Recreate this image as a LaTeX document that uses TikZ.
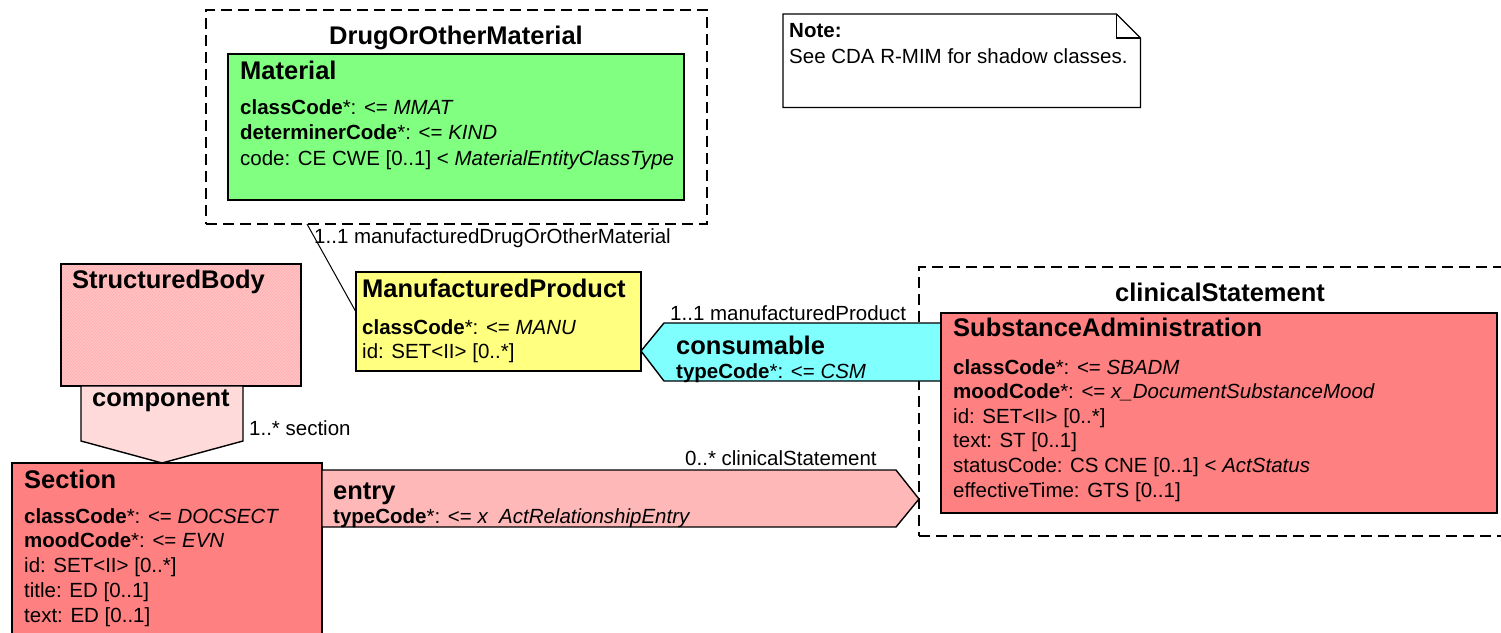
\documentclass[tikz,border=0pt]{standalone}
\usepackage{fontspec}
\setmainfont{Liberation Sans}
\usetikzlibrary{patterns}
\definecolor{rimgreen}{RGB}{128,255,128}
\definecolor{rimyellow}{RGB}{255,255,128}
\definecolor{rimcyan}{RGB}{128,255,255}
\definecolor{rimred}{RGB}{255,128,128}
\definecolor{rimpink}{RGB}{255,180,180}
\definecolor{rimlight}{RGB}{255,222,222}
\definecolor{rimentry}{RGB}{255,184,184}
\newcommand{\rimattr}[2]{\textbf{#1}*: <= \textit{#2}}

\begin{document}
\begin{tikzpicture}[x=1pt,y=-1pt,
    classbox/.style={draw, line width=1.4pt, anchor=north west, inner sep=0pt, outer sep=0pt},
    choicebox/.style={draw, dash pattern=on 11pt off 6pt, line width=1.4pt,
                      anchor=north west, inner sep=0pt, outer sep=0pt},
    title/.style={anchor=base west, inner sep=0pt, font=\fontsize{25.5}{30}\selectfont\bfseries},
    attr/.style={anchor=base west, inner sep=0pt, font=\fontsize{20.5}{24}\selectfont},
    assoc/.style={draw, line width=1.4pt, line join=miter}
  ]
    \useasboundingbox (0,0) rectangle (1501,632);

    % Note
    \node[anchor=north west, minimum width=357pt, minimum height=93pt, inner sep=0pt] (note) at (783,14) {};
    \draw[line width=1.2pt, fill=white] (note.north west) -- ([xshift=-24pt]note.north east)
      -- ([yshift=-24pt]note.north east) -- (note.south east) -- (note.south west) -- cycle;
    \draw[line width=1.2pt] ([xshift=-24pt]note.north east) -- ([xshift=-24pt,yshift=-24pt]note.north east)
      -- ([yshift=-24pt]note.north east);
    \node[attr, font=\fontsize{20.5}{24}\selectfont\bfseries] (note-head) at (789,37) {Note:};
    \node[attr] (note-text) at (789,63) {See CDA R-MIM for shadow classes.};

    % DrugOrOtherMaterial choice
    \node[choicebox, minimum width=501pt, minimum height=214pt] (drug) at (206,10) {};
    \node[title, anchor=base] (drug-title) at (456,44) {DrugOrOtherMaterial};
    \node[classbox, fill=rimgreen, minimum width=456pt, minimum height=146pt] (mat) at (228,54) {};
    \node[title] (mat-title) at (240,79) {Material};
    \foreach \txt [count=\i] in {{\rimattr{classCode}{MMAT}},
                                 {\rimattr{determinerCode}{KIND}},
                                 {code: CE CWE [0..1] < \textit{MaterialEntityClassType}}}
      \node[attr] (mat-\i) at (240,114+25.5*\i-25.5) {\txt};

    % ManufacturedProduct
    \node[classbox, fill=rimyellow, minimum width=285pt, minimum height=99pt] (mp) at (356,272) {};
    \draw[line width=1pt] ([xshift=101pt]drug.south west) -- ([yshift=-40pt]mp.north west);
    \node[attr] (mp-role) at (314,243) {1..1 manufacturedDrugOrOtherMaterial};
    \node[title] (mp-title) at (362,297) {ManufacturedProduct};
    \node[attr] (mp-1) at (362,334) {\rimattr{classCode}{MANU}};
    \node[attr] (mp-2) at (362,358) {id: SET<II> [0..*]};

    % clinicalStatement choice
    \node[choicebox, minimum width=600pt, minimum height=269pt] (cs) at (919,267) {};
    \node[title, anchor=base] (cs-title) at (1220,301) {clinicalStatement};

    % consumable
    \draw[assoc, fill=rimcyan] (mp.east |- 0,351) -- (664,323) -- (942,323)
      -- (942,381) -- (664,381) -- cycle;
    \node[attr] (cons-role) at (670,320) {1..1 manufacturedProduct};
    \node[title] (cons-title) at (676,354) {consumable};
    \node[attr] (cons-1) at (676,378) {\rimattr{typeCode}{CSM}};

    % SubstanceAdministration
    \node[classbox, fill=rimred, minimum width=556pt, minimum height=200pt] (sa) at (941,313) {};
    \node[title] (sa-title) at (953,336) {SubstanceAdministration};
    \foreach \txt [count=\i] in {{\rimattr{classCode}{SBADM}},
                                 {\rimattr{moodCode}{x\_DocumentSubstanceMood}},
                                 {id: SET<II> [0..*]},
                                 {text: ST [0..1]},
                                 {statusCode: CS CNE [0..1] < \textit{ActStatus}},
                                 {effectiveTime: GTS [0..1]}}
      \node[attr] (sa-\i) at (953,374+24.6*\i-24.6) {\txt};

    % StructuredBody and component
    \node[classbox, preaction={fill=rimpink}, pattern=north east lines, pattern color=rimred!40,
          minimum width=240pt, minimum height=122pt] (sb) at (61,264) {};
    \node[title] (sb-title) at (72,288) {StructuredBody};
    \node[classbox, minimum width=310pt, minimum height=200pt, fill=rimred] (sec) at (12,463) {};
    \draw[assoc, preaction={fill=rimlight}, pattern=north east lines, pattern color=rimpink!55]
      ([xshift=20pt]sb.south west) -- ([xshift=-58pt]sb.south east) -- (243,441)
      -- ([xshift=150pt]sec.north west) -- (81,441) -- cycle;
    \node[title] (comp-title) at (92,406) {component};
    \node[attr] (comp-role) at (249,435) {1..* section};

    % Section
    \node[title] (sec-title) at (24,488) {Section};
    \foreach \txt [count=\i] in {{\rimattr{classCode}{DOCSECT}},
                                 {\rimattr{moodCode}{EVN}},
                                 {id: SET<II> [0..*]},
                                 {title: ED [0..1]},
                                 {text: ED [0..1]}}
      \node[attr] (sec-\i) at (24,523+24.75*\i-24.75) {\txt};

    % entry
    \draw[assoc, fill=rimentry] (sec.east |- 0,470) -- (896,470) -- (cs.west |- 0,499)
      -- (896,527) -- (sec.east |- 0,527) -- cycle;
    \node[attr] (entry-role) at (685,465) {0..* clinicalStatement};
    \node[title] (entry-title) at (333,499) {entry};
    \node[attr] (entry-1) at (333,523) {\rimattr{typeCode}{x\phantom{\_}ActRelationshipEntry}};
  \end{tikzpicture}
\end{document}
